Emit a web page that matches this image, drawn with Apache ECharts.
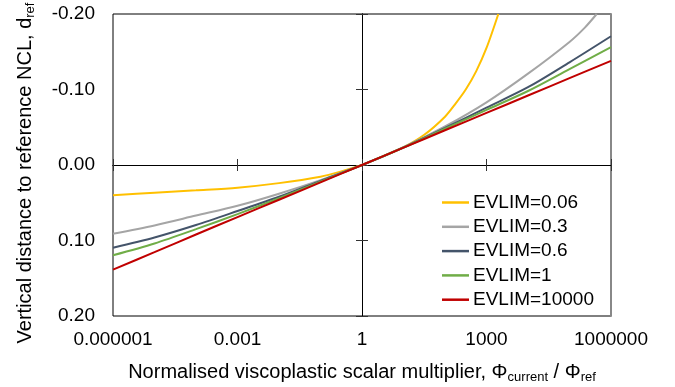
<!DOCTYPE html>
<html>
<head>
<meta charset="utf-8">
<script src="https://cdn.jsdelivr.net/npm/echarts@6/dist/echarts.min.js"></script>
<style>
  html, body { margin: 0; padding: 0; background: #fff; }
  #chart { width: 675px; height: 387px; }
</style>
</head>
<body>
<div id="chart"></div>
<script>
// tick labels
const xTickLabels = ['0.000001', '0.001', '1', '1000', '1000000'];
const yTickLabels = ['-0.20', '-0.10', '0.00', '0.10', '0.20'];

// phi values (x) used by the straight-ish curves
const phiDecades = [1e-6, 1e-5, 1e-4, 1e-3, 1e-2, 1e-1, 1, 10, 100, 1e3, 1e4, 1e5, 1e6];

// EVLIM = 0.06 (leaves the plot at the top)
const phi006 = [1e-6, 1e-5, 1e-4, 1e-3, 1e-2, 1e-1, 0.3162, 1, 3.162, 10, 31.62, 100, 177.8, 316.2, 562.3, 1000, 1928];
const d006 = [0.040, 0.0367, 0.0335, 0.030, 0.024, 0.0155, 0.0085, 0, -0.0115, -0.0235, -0.040, -0.064, -0.081, -0.100, -0.124, -0.155, -0.200];

// EVLIM = 0.3 (leaves the plot at the top)
const phi03 = [1e-6, 1e-5, 1e-4, 1e-3, 1e-2, 1e-1, 1, 10, 100, 1e3, 1e4, 1e5, 234400, 451900];
const d03 = [0.091, 0.080, 0.067, 0.054, 0.038, 0.020, 0, -0.0235, -0.051, -0.083, -0.121, -0.163, -0.182, -0.200];

const d06 = [0.1095, 0.096, 0.0795, 0.061, 0.042, 0.021, 0, -0.0232, -0.049, -0.076, -0.103, -0.136, -0.1705];
const d1 = [0.1196, 0.104, 0.085, 0.065, 0.044, 0.022, 0, -0.023, -0.048, -0.073, -0.098, -0.127, -0.156];
const d10000 = [0.1385, 0.1155, 0.092, 0.069, 0.046, 0.023, 0, -0.023, -0.046, -0.069, -0.092, -0.115, -0.138];

const font = '"Liberation Sans", Arial, sans-serif';

function pairs(xs, ys) {
  return xs.map((x, i) => [x, ys[i]]);
}

function curve(name, color, data) {
  return {
    name: name,
    type: 'line',
    xAxisIndex: 0,
    yAxisIndex: 0,
    smooth: 0.3,
    symbol: 'none',
    lineStyle: { color: color, width: 2 },
    itemStyle: { color: color },
    data: data
  };
}

// a value axis spanning the log-decades, only used for lines / ticks / labels
function decadeAxis(extra) {
  return Object.assign({
    type: 'value',
    min: -6,
    max: 6,
    interval: 3,
    position: 'bottom',
    splitLine: { show: false },
    axisLabel: { show: false },
    axisTick: { show: false },
    axisLine: { show: false, onZero: false }
  }, extra);
}

function distAxis(extra) {
  return Object.assign({
    type: 'value',
    inverse: true,
    min: -0.2,
    max: 0.2,
    interval: 0.1,
    position: 'left',
    splitLine: { show: false },
    axisLabel: { show: false },
    axisTick: { show: false },
    axisLine: { show: false, onZero: false }
  }, extra);
}

const titleRich = {
  a: { fontFamily: font, fontSize: 20, color: '#000', lineHeight: 24 },
  s: { fontFamily: font, fontSize: 13, color: '#000', lineHeight: 14, verticalAlign: 'bottom' }
};

const chart = echarts.init(document.getElementById('chart'));
chart.setOption({
  animation: false,
  textStyle: { fontFamily: font, color: '#000' },
  grid: {
    left: 113, top: 14, width: 498, height: 302,
    outerBoundsMode: 'none',
    containLabel: false,
    show: true, borderColor: '#000', borderWidth: 1, backgroundColor: 'transparent'
  },
  legend: {
    orient: 'vertical',
    left: 437,
    top: 188,
    icon: 'rect',
    itemWidth: 27,
    itemHeight: 2.5,
    itemGap: 5.3,
    textStyle: { fontFamily: font, fontSize: 19, color: '#000', lineHeight: 19, padding: [0, 0, 0, -1] },
    data: ['EVLIM=0.06', 'EVLIM=0.3', 'EVLIM=0.6', 'EVLIM=1', 'EVLIM=10000']
  },
  xAxis: [
    { type: 'log', logBase: 10, min: 1e-6, max: 1e6, show: false },
    decadeAxis({
      axisLabel: {
        show: true, margin: 14, fontFamily: font, fontSize: 19, color: '#000',
        formatter: (v) => xTickLabels[Math.round((v + 6) / 3)]
      },
      name: '{a|Normalised viscoplastic scalar multiplier, Φ}{s|current}{a| / Φ}{s|ref}',
      nameLocation: 'middle',
      nameGap: 44,
      nameTextStyle: { rich: titleRich }
    }),
    decadeAxis({
      axisLine: { show: true, onZero: true, onZeroAxisIndex: 0, lineStyle: { color: '#000', width: 1 } },
      axisTick: { show: true, inside: false, length: 6, lineStyle: { color: '#333' } }
    }),
    decadeAxis({
      axisLine: { show: true, onZero: true, onZeroAxisIndex: 0, lineStyle: { color: '#000', width: 1 } },
      axisTick: { show: true, inside: true, length: 6, lineStyle: { color: '#333' } }
    })
  ],
  yAxis: [
    distAxis({
      axisLabel: {
        show: true, margin: 18, fontFamily: font, fontSize: 19, color: '#000',
        formatter: (v) => yTickLabels[Math.round((v + 0.2) / 0.1)]
      },
      name: '{a|Vertical distance to reference NCL, d}{s|ref}',
      nameLocation: 'middle',
      nameRotate: 90,
      nameGap: 76,
      nameTextStyle: { rich: titleRich, padding: [0, 16, 0, 0] }
    }),
    distAxis({
      axisLine: { show: true, onZero: true, onZeroAxisIndex: 1, lineStyle: { color: '#000', width: 1 } },
      axisTick: { show: true, inside: false, length: 6, lineStyle: { color: '#333' } }
    }),
    distAxis({
      axisLine: { show: true, onZero: true, onZeroAxisIndex: 1, lineStyle: { color: '#000', width: 1 } },
      axisTick: { show: true, inside: true, length: 6, lineStyle: { color: '#333' } }
    }),
    distAxis({
      position: 'right',
      axisLine: { show: true, onZero: false, lineStyle: { color: '#888', width: 2 } }
    })
  ],
  series: [
    curve('EVLIM=0.06', '#FFC000', pairs(phi006, d006)),
    curve('EVLIM=0.3', '#A5A5A5', pairs(phi03, d03)),
    curve('EVLIM=0.6', '#44546A', pairs(phiDecades, d06)),
    curve('EVLIM=1', '#70AD47', pairs(phiDecades, d1)),
    curve('EVLIM=10000', '#C00000', pairs(phiDecades, d10000))
  ]
});
</script>
</body>
</html>
